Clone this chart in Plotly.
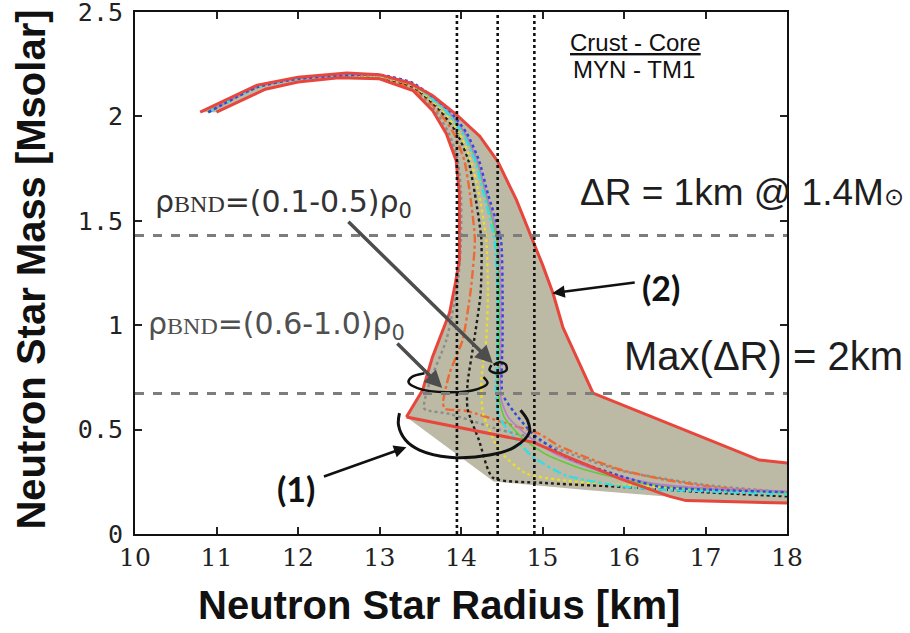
import plotly.graph_objects as go

# ---------------- data ----------------
x_ticks = [10, 11, 12, 13, 14, 15, 16, 17, 18]
y_ticks = [0, 0.5, 1, 1.5, 2, 2.5]

# envelope of all models (filled band)
band_outer = [(10.8, 2.02), (11.5, 2.15), (12.0, 2.188), (12.6, 2.208), (13.0, 2.2),
              (13.37, 2.16), (13.65, 2.10), (13.94, 2.01), (14.23, 1.905), (14.45, 1.785),
              (14.68, 1.6), (14.88, 1.41), (15.0, 1.29), (15.13, 1.152), (15.25, 0.99),
              (15.45, 0.82), (15.62, 0.675), (17.66, 0.354), (18.0, 0.34)]
band_bottom = [(18.0, 0.148), (16.76, 0.158), (16.56, 0.178), (15.5, 0.212), (14.4, 0.252),
               (13.33, 0.56)]
band_inner = [(13.33, 0.56), (13.53, 0.69), (13.65, 0.848), (13.86, 1.06), (13.93, 1.2),
              (13.98, 1.311), (13.98, 1.63), (13.94, 1.789), (13.82, 1.917), (13.65, 2.029),
              (13.41, 2.124), (13.0, 2.18), (12.5, 2.185), (12.0, 2.165), (11.6, 2.13),
              (11.0, 2.02)]
# lower red boundary (crust side)
red_lower = [(13.33, 0.56), (14.88, 0.44), (15.3, 0.37), (15.95, 0.265), (16.56, 0.18),
             (16.76, 0.16), (18.0, 0.148)]

# individual crust-core matching curves
curve_head = [(10.9, 2.02), (11.5, 2.14), (12.0, 2.18), (12.5, 2.195)]
gray_curve = curve_head + [(13.0, 2.178), (13.41, 2.13), (13.68, 2.03), (13.85, 1.92), (13.96, 1.79),
                           (14.0, 1.63), (14.0, 1.41), (13.96, 1.2), (13.82, 0.93), (13.61, 0.72),
                           (13.55, 0.6), (13.86, 0.575), (14.47, 0.5), (14.88, 0.46), (15.3, 0.39),
                           (16.0, 0.3), (17.0, 0.235), (18.0, 0.2)]
orange_curve = curve_head + [(13.0, 2.182), (13.41, 2.136), (13.71, 2.03), (13.91, 1.92), (14.04, 1.79),
                             (14.11, 1.63), (14.17, 1.41), (14.12, 1.17), (14.02, 0.93), (13.86, 0.77),
                             (13.78, 0.63), (13.8, 0.6), (14.06, 0.59), (14.55, 0.53), (14.96, 0.48),
                             (15.21, 0.42), (15.94, 0.31), (16.5, 0.26), (17.2, 0.22), (18.0, 0.2)]
black_curve = curve_head + [(13.0, 2.186), (13.41, 2.142), (13.74, 2.03), (13.95, 1.92), (14.09, 1.79),
                            (14.17, 1.63), (14.25, 1.41), (14.24, 1.15), (14.15, 0.9), (14.08, 0.72),
                            (14.08, 0.6), (14.22, 0.45), (14.39, 0.27), (15.0, 0.245), (16.0, 0.225),
                            (17.0, 0.2), (18.0, 0.18)]
yellow_curve = curve_head + [(13.0, 2.19), (13.41, 2.147), (13.77, 2.03), (13.98, 1.92), (14.12, 1.79),
                             (14.22, 1.63), (14.31, 1.41), (14.33, 1.15), (14.31, 0.93), (14.25, 0.74),
                             (14.27, 0.58), (14.47, 0.4), (14.8, 0.29), (15.29, 0.255), (16.0, 0.235),
                             (17.0, 0.21), (18.0, 0.19)]
cyan_curve = curve_head + [(13.0, 2.195), (13.41, 2.152), (13.8, 2.03), (14.02, 1.92), (14.17, 1.79),
                           (14.28, 1.63), (14.41, 1.41), (14.45, 1.15), (14.45, 0.93), (14.43, 0.69),
                           (14.47, 0.56), (14.68, 0.45), (14.88, 0.37), (15.29, 0.28), (16.15, 0.22),
                           (17.0, 0.205), (18.0, 0.19)]
green_curve = curve_head + [(13.0, 2.197), (13.41, 2.155), (13.82, 2.03), (14.04, 1.92), (14.19, 1.79),
                            (14.3, 1.63), (14.44, 1.41), (14.47, 1.15), (14.47, 0.93), (14.46, 0.67),
                            (14.53, 0.56), (14.75, 0.46), (15.05, 0.38), (15.5, 0.31), (16.2, 0.245),
                            (17.0, 0.215), (18.0, 0.2)]
purple_curve = curve_head + [(13.0, 2.198), (13.41, 2.157), (13.83, 2.03), (14.05, 1.92), (14.2, 1.79),
                             (14.31, 1.63), (14.46, 1.41), (14.49, 1.15), (14.49, 0.93), (14.49, 0.65),
                             (14.58, 0.56), (14.82, 0.47), (15.15, 0.385), (15.7, 0.3), (16.4, 0.24),
                             (17.2, 0.215), (18.0, 0.205)]
blue_curve = curve_head + [(13.0, 2.2), (13.41, 2.16), (13.85, 2.03), (14.07, 1.92), (14.22, 1.79),
                           (14.33, 1.63), (14.49, 1.41), (14.51, 1.15), (14.51, 0.93), (14.51, 0.67),
                           (14.64, 0.59), (14.88, 0.48), (15.29, 0.37), (15.94, 0.28), (16.44, 0.226),
                           (17.2, 0.21), (18.0, 0.2)]

curve_styles = [
    (gray_curve, "#8c8c8c", "dot"),
    (orange_curve, "#ee6a34", "dashdot"),
    (black_curve, "#1e1e1e", "dot"),
    (yellow_curve, "#e9dc2c", "dot"),
    (green_curve, "#5ccc3c", "solid"),
    (purple_curve, "#b87ad2", "solid"),
    (cyan_curve, "#33dde2", "dashdot"),
    (blue_curve, "#3447dc", "dot"),
]

vline_radii = [13.95, 14.45, 14.9]
hline_masses = [1.43, 0.673]

# hand-drawn annotation marks (brackets / loops)
bracket1 = [(13.245, 0.579), (13.233, 0.522), (13.319, 0.45), (13.491, 0.402), (13.859, 0.368),
            (14.35, 0.378), (14.656, 0.416), (14.84, 0.488), (14.816, 0.545), (14.73, 0.593)]
bracket_mid = [(13.552, 0.77), (13.393, 0.751), (13.356, 0.727), (13.466, 0.699), (13.834, 0.679),
               (14.202, 0.694), (14.325, 0.722), (14.276, 0.751)]
loop_small = [(14.374, 0.809), (14.35, 0.785), (14.448, 0.77), (14.558, 0.785), (14.546, 0.813),
              (14.472, 0.823), (14.40, 0.81)]


def xs(pts):
    return [p[0] for p in pts]


def ys(pts):
    return [p[1] for p in pts]


fig = go.Figure()

# filled band
poly = band_outer + band_bottom + band_inner[1:]
fig.add_trace(go.Scatter(x=xs(poly), y=ys(poly), fill="toself", mode="lines",
                         fillcolor="rgb(188,185,164)", line=dict(width=0),
                         hoverinfo="skip", showlegend=False))

for pts, col, dash in curve_styles:
    fig.add_trace(go.Scatter(x=xs(pts), y=ys(pts), mode="lines",
                             line=dict(color=col, width=2.4 if dash != "solid" else 1.6, dash=dash,
                                       shape="spline", smoothing=0.6),
                             hoverinfo="skip", showlegend=False))

red = "#e8453c"
fig.add_trace(go.Scatter(x=xs(band_outer), y=ys(band_outer), mode="lines",
                         line=dict(color=red, width=3), hoverinfo="skip", showlegend=False))
fig.add_trace(go.Scatter(x=xs(band_inner), y=ys(band_inner), mode="lines",
                         line=dict(color=red, width=3), hoverinfo="skip", showlegend=False))
fig.add_trace(go.Scatter(x=xs(red_lower), y=ys(red_lower), mode="lines",
                         line=dict(color=red, width=3), hoverinfo="skip", showlegend=False))

# brackets
for pts, w in [(bracket1, 3), (bracket_mid, 2.5), (loop_small, 2.5)]:
    fig.add_trace(go.Scatter(x=xs(pts), y=ys(pts), mode="lines",
                             line=dict(color="#111111", width=w, shape="spline"),
                             hoverinfo="skip", showlegend=False))

shapes = []
for r in vline_radii:
    shapes.append(dict(type="line", xref="x", yref="paper", x0=r, x1=r, y0=0, y1=1,
                       line=dict(color="#111111", width=2.6, dash="dot"), layer="above"))
for m in hline_masses:
    shapes.append(dict(type="line", xref="paper", yref="y", x0=0, x1=1, y0=m, y1=m,
                       line=dict(color="#7d7d7d", width=3, dash="dash"), layer="above"))

small = '<span style="font-family:Liberation Serif;font-size:24px">BND</span>'
gill = "DejaVu Sans"
annotations = [
    dict(x=10.215, y=1.584, xref="x", yref="y", xanchor="left", yanchor="middle", showarrow=False,
         text="ρ" + small + "=(0.1-0.5)ρ<sub>0</sub>", font=dict(family=gill, size=30, color="#333333")),
    dict(x=10.14, y=1.0, xref="x", yref="y", xanchor="left", yanchor="middle", showarrow=False,
         text="ρ" + small + "=(0.6-1.0)ρ<sub>0</sub>", font=dict(family=gill, size=30, color="#505050")),
    dict(x=15.43, y=1.636, xref="x", yref="y", xanchor="left", yanchor="middle", showarrow=False,
         text='ΔR = 1km @ 1.4M<span style="font-size:24px">⊙</span>',
         font=dict(family="Liberation Sans", size=37, color="#1e1e1e")),
    dict(x=15.97, y=0.852, xref="x", yref="y", xanchor="left", yanchor="middle", showarrow=False,
         text="Max(ΔR) = 2km", font=dict(family="Liberation Sans", size=40, color="#1e1e1e")),
    dict(x=16.14, y=2.352, xref="x", yref="y", xanchor="center", yanchor="middle", showarrow=False,
         text="<u>Crust - Core</u>", font=dict(family="Liberation Sans", size=24, color="#111111")),
    dict(x=16.12, y=2.226, xref="x", yref="y", xanchor="center", yanchor="middle", showarrow=False,
         text="MYN - TM1", font=dict(family="Liberation Sans", size=24, color="#111111")),
    dict(x=16.46, y=1.182, xref="x", yref="y", xanchor="center", yanchor="middle", showarrow=False,
         text="<b>(2)</b>", font=dict(family="Lato", size=34, color="#111111")),
    dict(x=11.97, y=0.22, xref="x", yref="y", xanchor="center", yanchor="middle", showarrow=False,
         text="<b>(1)</b>", font=dict(family="Lato", size=34, color="#111111")),
    # arrows
    dict(x=14.39, y=0.818, ax=12.60, ay=1.502, xref="x", yref="y", axref="x", ayref="y",
         showarrow=True, arrowhead=2, arrowsize=1, arrowwidth=3.5, arrowcolor="#4d4d4d", text=""),
    dict(x=13.77, y=0.699, ax=13.20, ay=0.919, xref="x", yref="y", axref="x", ayref="y",
         showarrow=True, arrowhead=2, arrowsize=1, arrowwidth=3.5, arrowcolor="#4d4d4d", text=""),
    dict(x=15.12, y=1.153, ax=16.15, ay=1.206, xref="x", yref="y", axref="x", ayref="y",
         showarrow=True, arrowhead=2, arrowsize=1, arrowwidth=2.5, arrowcolor="#111111", text=""),
    dict(x=13.33, y=0.416, ax=12.30, ay=0.273, xref="x", yref="y", axref="x", ayref="y",
         showarrow=True, arrowhead=2, arrowsize=1, arrowwidth=2.5, arrowcolor="#111111", text=""),
    # axis titles
    dict(x=0.467, y=-0.136, xref="paper", yref="paper", xanchor="center", yanchor="middle",
         showarrow=False, text="<b>Neutron Star Radius [km]</b>",
         font=dict(family="Liberation Sans", size=40, color="#111111")),
    dict(x=-0.16, y=0.506, xref="paper", yref="paper", xanchor="center", yanchor="middle",
         showarrow=False, textangle=-90, text="<b>Neutron Star Mass [Msolar]</b>",
         font=dict(family="Liberation Sans", size=40, color="#111111")),
]

fig.update_layout(
    width=910, height=633,
    margin=dict(l=135, r=123, t=12, b=99, autoexpand=False),
    paper_bgcolor="white", plot_bgcolor="white",
    shapes=shapes, annotations=annotations, showlegend=False,
    xaxis=dict(range=[10, 18], tickvals=x_ticks, ticktext=[str(v) for v in x_ticks],
               ticks="inside", ticklen=7, tickwidth=1.5, tickcolor="#222",
               showline=True, linecolor="#111", linewidth=2, mirror="ticks",
               showgrid=False, zeroline=False, ticklabeloverflow="allow", automargin=False,
               tickfont=dict(family="DejaVu Serif", size=25, color="#222")),
    yaxis=dict(range=[0, 2.5], tickvals=y_ticks, ticktext=[f"{v:g}" for v in y_ticks],
               ticks="inside", ticklen=7, tickwidth=1.5, tickcolor="#222",
               showline=True, linecolor="#111", linewidth=2, mirror="ticks",
               showgrid=False, zeroline=False, ticklabeloverflow="allow", ticklabelstandoff=5,
               automargin=False,
               tickfont=dict(family="DejaVu Sans Mono", size=25, color="#222")),
)

fig.write_html("out.html", config={"displayModeBar": False},
               post_script="document.body.style.margin='0';")
